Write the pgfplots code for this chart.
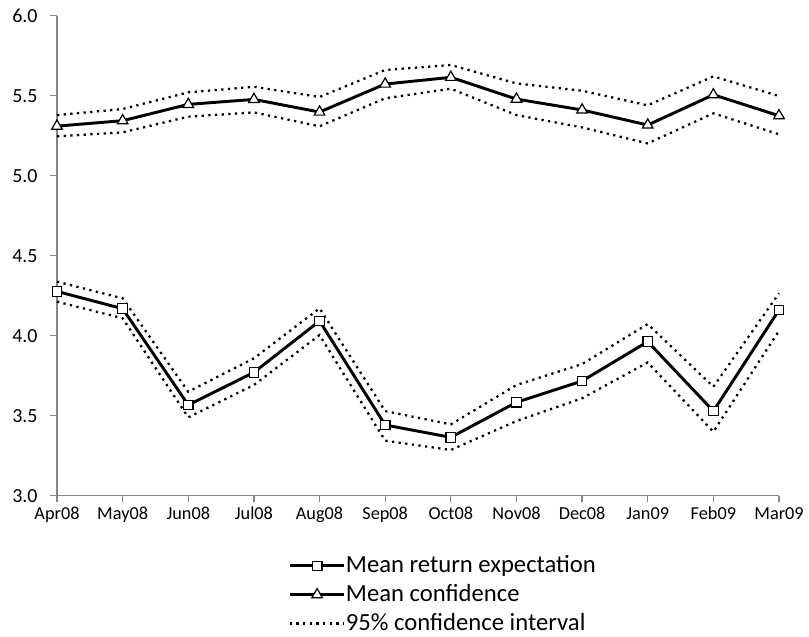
\documentclass[border=0pt]{standalone}
\usepackage{pgfplots}
\pgfplotsset{compat=1.18}
\usepackage{fontspec}
\setmainfont{Carlito}
\definecolor{axgray}{RGB}{134,134,134}
\newcommand{\yl}[1]{\fontsize{15}{17}\selectfont #1}
\begin{document}
\begin{tikzpicture}
\path[use as bounding box] (0,0) rectangle (606.75pt,477pt);
\begin{axis}[
  at={(42.75pt,105.2pt)}, anchor=south west,
  scale only axis, width=541.5pt, height=360pt,
  xmin=0, xmax=11, ymin=3, ymax=6,
  axis lines=left, axis line style={-, axgray, line width=0.9pt},
  xtick={0,...,11},
  xticklabels={Apr08,May08,Jun08,Jul08,Aug08,Sep08,Oct08,Nov08,Dec08,Jan09,Feb09,Mar09},
  ytick={3,3.5,4,4.5,5,5.5,6},
  yticklabels={\yl{3.0},\yl{3.5},\yl{4.0},\yl{4.5},\yl{5.0},\yl{5.5},\yl{6.0}},
  tick style={axgray, line width=0.9pt},
  tick align=outside, major tick length=5pt,
  x tick label style={font=\fontsize{13.7}{16}\selectfont, text height=0.7em, text depth=0.22em, yshift=-2pt},
  y tick label style={font=\fontsize{15}{17}\selectfont, xshift=-6pt},
  clip=false,
  legend style={at={(0.32,-0.1235)}, anchor=north west, draw=none, fill=none,
    font=\fontsize{18.5}{21.4}\selectfont, row sep=5.6pt, inner sep=0pt,
    nodes={text height=13pt, text depth=3pt, inner sep=0pt},
    /tikz/every even column/.append style={column sep=6pt}},
  legend cell align=left,
  legend image code/.code={\draw[mark repeat=2,mark phase=2] plot coordinates {(0pt,0pt)(20.5pt,0pt)(41pt,0pt)};},
  every axis plot/.append style={black},
]
\pgfplotsset{
  mainline/.style={line width=2.2pt},
  ci/.style={line width=1.7pt, dash pattern=on 1.7pt off 3.3pt, mark=none},
}
% Mean return expectation
\addplot[mainline, mark=square*, mark size=3.6pt, mark options={fill=white, draw=black, line width=0.9pt, solid}] coordinates {
(0,4.277)(1,4.169)(2,3.567)(3,3.771)(4,4.092)(5,3.442)(6,3.365)(7,3.584)(8,3.717)(9,3.963)(10,3.529)(11,4.161)};
\addlegendentry{Mean return expectation}
% Mean confidence
\addplot[mainline, mark=triangle*, mark size=4.6pt, mark options={fill=white, draw=black, line width=0.9pt, solid}] coordinates {
(0,5.310)(1,5.344)(2,5.446)(3,5.477)(4,5.398)(5,5.573)(6,5.615)(7,5.479)(8,5.411)(9,5.317)(10,5.506)(11,5.375)};
\addlegendentry{Mean confidence}
% CI confidence upper
\addplot[ci] coordinates {
(0,5.379)(1,5.417)(2,5.521)(3,5.556)(4,5.492)(5,5.661)(6,5.692)(7,5.577)(8,5.531)(9,5.440)(10,5.621)(11,5.498)};
\addlegendentry{95\% confidence interval}
\addplot[ci, forget plot] coordinates {
(0,5.246)(1,5.271)(2,5.369)(3,5.396)(4,5.309)(5,5.484)(6,5.544)(7,5.379)(8,5.302)(9,5.202)(10,5.390)(11,5.259)};
\addplot[ci, forget plot] coordinates {
(0,4.338)(1,4.234)(2,3.650)(3,3.859)(4,4.171)(5,3.529)(6,3.446)(7,3.692)(8,3.823)(9,4.073)(10,3.681)(11,4.265)};
\addplot[ci, forget plot] coordinates {
(0,4.213)(1,4.109)(2,3.490)(3,3.692)(4,4.004)(5,3.344)(6,3.286)(7,3.467)(8,3.609)(9,3.833)(10,3.400)(11,4.031)};
\end{axis}
\end{tikzpicture}
\end{document}
